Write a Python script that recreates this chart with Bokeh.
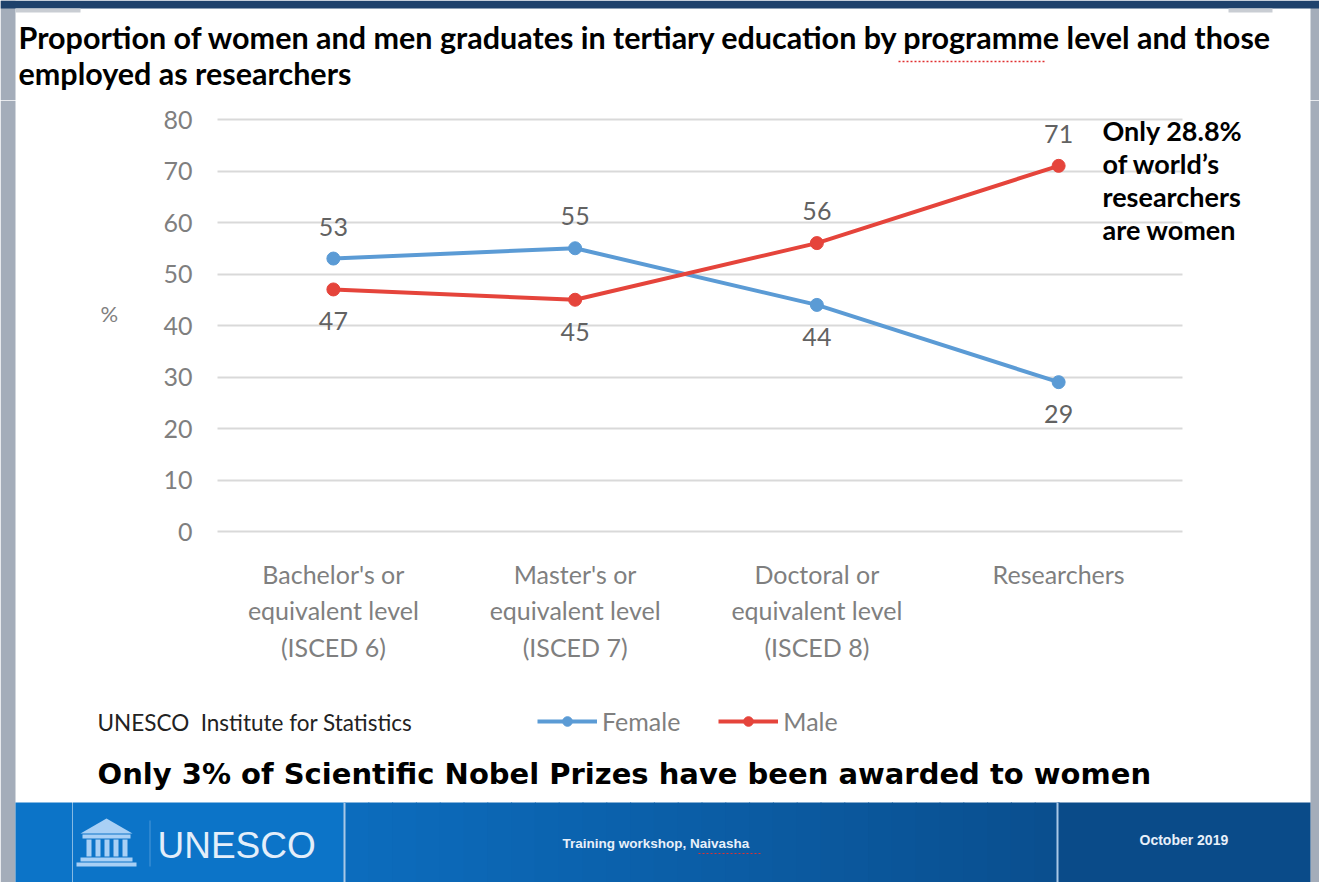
from bokeh.plotting import figure
from bokeh.layouts import column, row
from bokeh.models import (ColumnDataSource, FactorRange, Range1d, Label, BoxAnnotation,
                          PolyAnnotation, Legend, LegendItem)
from bokeh.core.properties import value
from bokeh.embed import file_html
from bokeh.resources import INLINE

# ---------------- data ----------------
categories = ["Bachelor's or\nequivalent level\n(ISCED 6)",
              "Master's or\nequivalent level\n(ISCED 7)",
              "Doctoral or\nequivalent level\n(ISCED 8)",
              "Researchers"]
female = [53, 55, 44, 29]
male = [47, 45, 56, 71]
y_ticks = [0, 10, 20, 30, 40, 50, 60, 70, 80]

title_text = ("Proportion of women and men graduates in tertiary education by programme level and those\n"
              "employed as researchers")
note_text = "Only 28.8%\nof world\u2019s\nresearchers\nare women"
source_text = "UNESCO\u00a0 Institute for Statistics"
headline_text = "Only 3% of Scientific Nobel Prizes have been awarded to women"

# ---------------- geometry (reference pixels) ----------------
REF_W, REF_H = 1319, 882
TOP_H = 100
LEFT_W = 72
FL, FR, FT, FB = 212, 1179, 119, 531      # chart plotting area
NCAT = len(categories)
YMAX = 80
UX = (FR - FL) / NCAT
UY = (FB - FT) / YMAX

def X(rx):
    return (rx - FL) / UX

def Y(ry):
    return (FB - ry) / UY

BLUE = "#5b9bd5"
RED = "#e5443b"
GREY_TXT = "#7f7f7f"
LBL_TXT = "#626262"
FRAME_GREY = "#a4adba"
LOGO = "#a9d0f5"

def base_fig(**kw):
    f = figure(output_backend="svg", toolbar_location=None, min_border=0, **kw)
    f.outline_line_color = None
    f.background_fill_color = "white"
    f.border_fill_color = "white"
    return f

def box(f, conv_x, conv_y, l, r, t, b, color):
    f.add_layout(BoxAnnotation(left=conv_x(l), right=conv_x(r), top=conv_y(t), bottom=conv_y(b),
                               fill_color=color, fill_alpha=1.0, line_color=None,
                               level="underlay"))

ident = lambda v: v

# ---------------- top strip: title ----------------
pt = base_fig(x_range=Range1d(0, REF_W), y_range=Range1d(TOP_H, 0),
              width=REF_W, height=TOP_H, x_axis_location=None, y_axis_location=None)
pt.xgrid.visible = False
pt.ygrid.visible = False
box(pt, ident, ident, 0, 15, 0, TOP_H, FRAME_GREY)
box(pt, ident, ident, 1310, REF_W, 0, TOP_H, FRAME_GREY)
box(pt, ident, ident, 0, REF_W, 0, 8, "#1f426c")
box(pt, ident, ident, 15, 80, 8, 12, "#c9cdd3")
box(pt, ident, ident, 1228, 1272, 8, 12, "#c9cdd3")
pt.add_layout(Label(x=18, y=18, text=title_text, text_font="Lato", text_font_style="bold",
                    text_font_size="30.5px", text_color="black", text_baseline="top",
                    text_line_height=1.0))
pt.line(x=[898, 1046], y=[61, 61], line_color="#e03030", line_width=1.5, line_dash="2 2")

# ---------------- left strip ----------------
pl = base_fig(x_range=Range1d(0, LEFT_W), y_range=Range1d(REF_H, TOP_H),
              width=LEFT_W, height=REF_H - TOP_H, x_axis_location=None, y_axis_location=None)
pl.xgrid.visible = False
pl.ygrid.visible = False
box(pl, ident, ident, 0, 15, TOP_H, REF_H, FRAME_GREY)
box(pl, ident, ident, 15, LEFT_W + 1, 802, REF_H, "#0c74c8")

# ---------------- main chart ----------------
half_pad = (FL - LEFT_W) / UX
p = base_fig(x_range=FactorRange(*categories, range_padding=half_pad / 2,
                                 range_padding_units="percent"),
             y_range=Range1d(Y(REF_H), Y(TOP_H)),
             width=REF_W - LEFT_W, height=REF_H - TOP_H)

# slide decorations
box(p, X, Y, 1310, REF_W + 5, TOP_H, REF_H, FRAME_GREY)
box(p, X, Y, LEFT_W - 1, 345, 802, REF_H + 5, "#0c74c8")
n_strips = 30
c0 = (0x0c, 0x6c, 0xbd)
c1 = (0x0a, 0x4f, 0x8f)
for i in range(n_strips):
    t = i / (n_strips - 1)
    col = "#%02x%02x%02x" % tuple(int(round(a + (b - a) * t)) for a, b in zip(c0, c1))
    l = 344 + (1058 - 344) * i / n_strips
    r = 344 + (1058 - 344) * (i + 1) / n_strips + 1
    box(p, X, Y, l, r, 802, REF_H + 5, col)
box(p, X, Y, 1057, 1310, 802, REF_H + 5, "#0a4b89")
box(p, X, Y, 343, 345, 802, REF_H + 5, "#a9c8e6")
box(p, X, Y, 1056, 1058, 802, REF_H + 5, "#a9c8e6")
box(p, X, Y, 149, 150, 820, 866, "#4d98d8")

# UNESCO temple logo
p.add_layout(PolyAnnotation(xs=[X(80), X(106), X(132)], ys=[Y(833), Y(818), Y(833)],
                            fill_color=LOGO, fill_alpha=1, line_color=None, level="underlay"))
box(p, X, Y, 82, 130, 834, 838, LOGO)
for cx in [86, 95, 104, 113, 122]:
    box(p, X, Y, cx, cx + 5, 839, 856, LOGO)
box(p, X, Y, 80, 132, 857, 861, LOGO)
box(p, X, Y, 76, 136, 862, 866, LOGO)

# axes / grid
p.xgrid.grid_line_color = None
p.ygrid.grid_line_color = "#d9d9d9"
p.ygrid.grid_line_width = 2
g = p.ygrid[0]
if "cross_bounds" in g.properties():
    g.cross_bounds = (X(217), X(1182))
p.yaxis.ticker = y_ticks
p.yaxis.fixed_location = 0
p.xaxis.fixed_location = 0
for ax in (p.xaxis[0], p.yaxis[0]):
    ax.axis_line_color = None
    ax.major_tick_line_color = None
    ax.minor_tick_line_color = None
    ax.major_label_text_color = GREY_TXT
    ax.major_label_text_font = "Lato"
p.yaxis.major_label_text_font_size = "25px"
p.yaxis.major_label_standoff = 14
p.xaxis.major_label_text_font_size = "25px"
p.xaxis.major_label_text_line_height = 1.23
p.xaxis.major_label_standoff = 21

# series
f_off = [-32 if f >= m else 32 for f, m in zip(female, male)]
m_off = [-32 if m > f else 32 for f, m in zip(female, male)]
src = ColumnDataSource(dict(cat=categories, female=female, male=male,
                            f_lbl=[str(v) for v in female], m_lbl=[str(v) for v in male],
                            f_off=f_off, m_off=m_off))

fl = p.line("cat", "female", source=src, line_color=BLUE, line_width=4)
fc = p.scatter("cat", "female", source=src, size=13, fill_color=BLUE, line_color=BLUE)
ml = p.line("cat", "male", source=src, line_color=RED, line_width=4)
mc = p.scatter("cat", "male", source=src, size=13, fill_color=RED, line_color=RED)

for colname, lbl, off in (("female", "f_lbl", "f_off"), ("male", "m_lbl", "m_off")):
    p.text("cat", colname, text=lbl, y_offset=off, source=src, text_align="center",
           text_baseline="middle", text_font=value("Lato"), text_font_size="25px",
           text_color=LBL_TXT)

legend = Legend(items=[LegendItem(label="Female", renderers=[fl, fc]),
                       LegendItem(label="Male", renderers=[ml, mc])],
                location=(537 - LEFT_W, REF_H - 736), orientation="horizontal",
                glyph_width=60, glyph_height=24, label_height=24, padding=0, margin=0,
                spacing=38, label_standoff=5, label_text_font="Lato",
                label_text_font_size="25px", label_text_color=GREY_TXT,
                background_fill_alpha=0, border_line_color=None)
p.add_layout(legend)

# texts
p.add_layout(Label(x=X(100), y=Y(313), text="%", text_font="Lato", text_font_size="22px",
                   text_color=GREY_TXT, text_baseline="middle"))
p.add_layout(Label(x=X(1102), y=Y(113), text=note_text, text_font="Lato",
                   text_font_style="bold", text_font_size="27px", text_color="black",
                   text_baseline="top", text_line_height=1.01))
p.add_layout(Label(x=X(97), y=Y(722), text=source_text, text_font="Lato",
                   text_font_size="22.5px", text_color="#222222", text_baseline="middle"))
p.add_layout(Label(x=X(97), y=Y(773), text=headline_text, text_font="DejaVu Sans",
                   text_font_style="bold", text_font_size="29px", text_color="black",
                   text_baseline="middle"))
p.add_layout(Label(x=X(157), y=Y(845), text="UNESCO", text_font="Liberation Sans",
                   text_font_size="37px", text_color="#e3eefa", text_baseline="middle"))
p.add_layout(Label(x=X(562), y=Y(843), text="Training workshop, Naivasha",
                   text_font="Liberation Sans", text_font_style="bold",
                   text_font_size="13.5px", text_color="#e8f0fa", text_baseline="middle"))
p.add_layout(Label(x=X(1139), y=Y(839), text="October 2019",
                   text_font="Liberation Sans", text_font_style="bold",
                   text_font_size="14px", text_color="#e8f0fa", text_baseline="middle"))
p.line(x=[X(698), X(762)], y=[Y(853), Y(853)], line_color="#e03030", line_width=1.2,
       line_dash="2 2")

layout = column(pt, row(pl, p))
open("out.html", "w").write(file_html(layout, INLINE))
